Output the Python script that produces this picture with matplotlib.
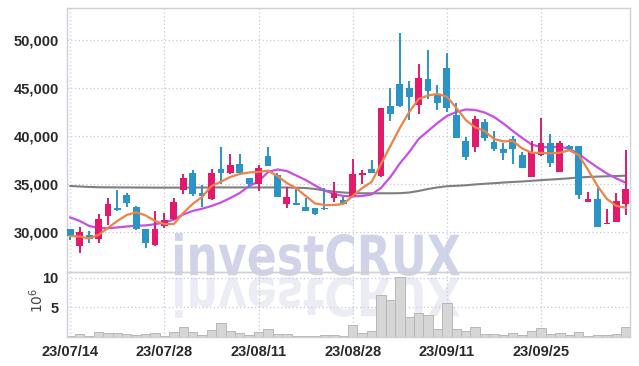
import matplotlib
matplotlib.use('Agg')
import matplotlib.pyplot as plt
from matplotlib.textpath import TextPath
from matplotlib.patches import PathPatch
from matplotlib.font_manager import FontProperties
from matplotlib.transforms import Affine2D

plt.rcParams['font.family'] = ['Liberation Sans', 'DejaVu Sans']

# every 10th trading day gets a label
tick_idx = [0, 10, 20, 30, 40, 50]
tick_labels = ['23/07/14', '23/07/28', '23/08/11', '23/08/28', '23/09/11', '23/09/25']
price_ticks = [30000, 35000, 40000, 45000, 50000]

opens = [30300, 28570, 29690, 29300, 31670, 32470, 33850, 32640, 30280, 28650,
         30625, 31320, 34375, 36180, 34100, 33400, 36530, 36180, 37080, 35600,
         35000, 37920, 35940, 32950, 33020, 32570, 32470, 32470, 33510, 33330,
         33750, 35900, 36530, 35870, 43130, 45370, 44970, 43230, 45900, 44270,
         47050, 42190, 39480, 38890, 41490, 39340, 38650, 39690, 38020, 35700,
         38020, 39240, 36280, 38960, 38960, 33090, 33440, 30800, 31070, 32880]
closes = [29600, 29970, 29240, 31350, 32920, 32260, 33050, 30340, 28820, 30280,
          31250, 33160, 35660, 33960, 33750, 36180, 36110, 36980, 36110, 35000,
          36700, 36900, 33680, 33610, 32850, 32190, 31880, 32360, 34030, 32920,
          36040, 36150, 36110, 42880, 42300, 43130, 44100, 46010, 44720, 43400,
          42880, 39760, 37840, 41740, 39760, 38650, 38260, 38650, 36700, 38300,
          39240, 37220, 39310, 38610, 33850, 33440, 30490, 30970, 33230, 34480]
highs = [30350, 30550, 30100, 31840, 33510, 34375, 34030, 32700, 30280, 32220,
         32000, 33510, 36040, 36460, 34900, 36530, 38890, 38125, 38125, 35600,
         36980, 38890, 36180, 34720, 34550, 33570, 32470, 34550, 35180, 33680,
         37570, 36460, 37500, 42950, 45030, 50700, 45760, 47470, 48960, 45310,
         48610, 43470, 39860, 42080, 41770, 40520, 39310, 40000, 38365, 39480,
         41840, 40180, 39480, 39060, 38960, 34200, 34550, 32360, 34090, 38540]
lows = [29200, 27780, 28820, 28820, 30730, 32150, 32640, 30200, 28300, 28540,
        30450, 31250, 33930, 33780, 32570, 33330, 34970, 36040, 35940, 34600,
        34270, 36900, 33680, 32470, 32850, 32190, 31770, 32300, 33160, 32920,
        33680, 34970, 36110, 35760, 41560, 42990, 41670, 42300, 43820, 42710,
        42530, 39760, 37500, 38365, 39510, 38470, 37500, 37080, 36700, 35700,
        37920, 36800, 36280, 38540, 33400, 33090, 30490, 30800, 31070, 31770]
volumes = [0.2, 0.5, 0.2, 0.85, 0.75, 0.75, 0.55, 0.4, 0.55, 0.75,
           0.25, 0.9, 1.75, 0.9, 0.4, 1.25, 2.4, 1.1, 0.75, 0.35,
           0.9, 1.4, 0.55, 0.55, 0.15, 0.15, 0.15, 0.35, 0.35, 0.15,
           2.05, 0.75, 1.1, 7.1, 6.3, 10.1, 3.4, 4.1, 3.8, 1.4,
           5.8, 1.4, 1.1, 1.7, 0.5, 0.5, 0.35, 0.75, 0.4, 1.1,
           1.55, 0.55, 0.75, 0.4, 0.9, 0.15, 0.4, 0.4, 0.55, 1.75]
ma_short = [29580, 29530, 29320, 29690, 30420, 31150, 31770, 32050, 31720, 31150,
            30830, 30830, 31980, 32920, 33650, 34790, 35240, 35730, 36040, 36200,
            36250, 36390, 35830, 35100, 34550, 33750, 32970, 32810, 32810, 32920,
            33750, 34580, 35210, 37080, 38960, 40830, 42500, 43850, 44220, 44380,
            44090, 42920, 41670, 40890, 40520, 39690, 39430, 39480, 38700, 38260,
            38230, 38200, 38250, 38510, 38020, 36460, 34790, 33440, 32710, 32530]
ma_mid = [31510, 31150, 30630, 30420, 30390, 30470, 30570, 30650, 30680, 30810,
          30990, 31300, 31820, 32190, 32420, 32710, 33070, 33540, 34060, 34790,
          35260, 36250, 36510, 36350, 35880, 35420, 34840, 34320, 33960, 33750,
          33700, 33750, 33910, 34580, 35730, 37140, 38330, 39690, 40520, 41350,
          42080, 42500, 42760, 42710, 42450, 41980, 41300, 40520, 39790, 39110,
          38850, 38820, 38890, 38650, 38130, 37400, 36720, 36090, 35570, 35140]
ma_long = [34790, 34740, 34690, 34660, 34650, 34640, 34640, 34630, 34630, 34620,
           34620, 34620, 34620, 34620, 34630, 34630, 34640, 34640, 34640, 34640,
           34640, 34640, 34640, 34630, 34610, 34580, 34480, 34320, 34200, 34110,
           34060, 34030, 34030, 34030, 34030, 34040, 34110, 34270, 34480, 34640,
           34760, 34810, 34860, 34950, 35020, 35080, 35150, 35210, 35260, 35330,
           35400, 35460, 35520, 35590, 35680, 35730, 35770, 35800, 35830, 35860]

UP = '#e3196c'
DOWN = '#2b94c6'
GRID = '#c5c9dc'
SPINE = '#d0d0d8'

W, H = 639, 366
fig = plt.figure(figsize=(W / 100, H / 100), dpi=100)
fig.patch.set_facecolor('white')

ax = fig.add_axes([67 / W, 1 - 272 / H, 563 / W, 264 / H])
axv = fig.add_axes([67 / W, 1 - 337 / H, 563 / W, 65 / H], sharex=ax)
for a in (ax, axv):
    a.set_facecolor('none')
    for s in a.spines.values():
        s.set_color(SPINE)
        s.set_linewidth(1)
    a.grid(True, color=GRID, linestyle=(0, (1, 2)), linewidth=0.9)
    a.tick_params(length=0, labelsize=10.5, colors='#2a2a2a', pad=6)

x = list(range(len(opens)))
cols = [UP if c >= o else DOWN for o, c in zip(opens, closes)]
bodies = [max(abs(c - o), 60) for o, c in zip(opens, closes)]
bottoms = [min(o, c) for o, c in zip(opens, closes)]

ax.plot(x, ma_long, color='#7f7f7f', lw=1.5, zorder=2)
ax.plot(x, ma_mid, color='#c64fe6', lw=1.6, zorder=2)
ax.plot(x, ma_short, color='#ef8245', lw=1.6, zorder=4)
ax.vlines(x, lows, highs, colors=cols, lw=1.4, zorder=3)
ax.bar(x, bodies, bottom=bottoms, width=0.72, color=cols, zorder=3)

ax.set_ylim(25830, 53330)
ax.set_yticks(price_ticks, labels=[f'{v:,}' for v in price_ticks], fontweight='bold')
ax.set_xlim(-0.35, 59.45)
ax.set_xticks(tick_idx)
ax.tick_params(axis='x', labelbottom=False)

axv.bar(x, volumes, width=1.0, color='#d6d6d6', edgecolor='#b8b8b8', linewidth=0.7, zorder=2)
axv.set_ylim(0, 11)
axv.set_yticks([5, 10], labels=['5', '10'], fontweight='bold')
axv.set_xticks(tick_idx, labels=tick_labels, fontweight='bold')
fig.text(37 / W, 1 - 300 / H, '$10^6$', rotation=90, ha='center', va='center',
         fontsize=10, color='#444444', family='DejaVu Sans')

# watermark with faded reflection
tp = TextPath((0, 0), 'investCRUX', size=1, prop=FontProperties(family='DejaVu Sans', weight='bold'))
bb = tp.get_extents()
sx = (460 - 175) / bb.width
sy = (276 - 233) / bb.height
base = Affine2D().translate(-bb.x0, -bb.y0)
tr = base + Affine2D().scale(sx / W, sy / H).translate(175 / W, (H - 276) / H) + fig.transFigure
fig.add_artist(PathPatch(tp, transform=tr, facecolor='#c9cde4', edgecolor='none', alpha=0.85, zorder=-1))
tr2 = base + Affine2D().scale(sx / W, -sy * 0.95 / H).translate(175 / W, (H - 277) / H) + fig.transFigure
fig.add_artist(PathPatch(tp, transform=tr2, facecolor='#e6e8f2', edgecolor='none', alpha=0.8, zorder=-1))

fig.savefig('out.png', dpi=100, facecolor='white')
